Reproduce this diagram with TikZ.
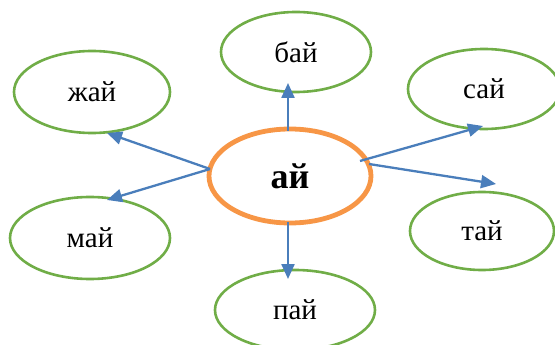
\documentclass[tikz,border=0pt]{standalone}
\usepackage{fontspec}
\setmainfont{Liberation Serif}
\usetikzlibrary{shapes.geometric,arrows.meta}
\definecolor{lgreen}{HTML}{70AD47}
\definecolor{lorange}{HTML}{F79646}
\definecolor{lblue}{HTML}{4A7EBB}
\tikzset{
  leaf/.style={ellipse,draw=lgreen,line width=2.6pt,inner sep=0pt,font=\fontsize{29}{32}\selectfont},
  hub/.style={ellipse,draw=lorange,line width=4.8pt,inner sep=0pt,font=\fontsize{36}{40}\selectfont\bfseries},
  arr/.style={draw=lblue,line width=2.3pt,-{Triangle[length=15pt,width=13pt]}}
}
\begin{document}
\begin{tikzpicture}[x=1pt,y=-1pt]
\useasboundingbox (0,0) rectangle (555,345);
\node[hub,minimum width=162pt,minimum height=94pt] (c) at (290,176) {ай};
\node[leaf,minimum width=150pt,minimum height=80pt] (b) at (296,52) {бай};
\node[leaf,minimum width=156pt,minimum height=82pt] (zh) at (92,92) {жай};
\node[leaf,minimum width=152pt,minimum height=80pt] (s) at (484,89) {сай};
\node[leaf,minimum width=160pt,minimum height=82pt] (m) at (90,238) {май};
\node[leaf,minimum width=144pt,minimum height=78pt] (t) at (482,231) {тай};
\node[leaf,minimum width=160pt,minimum height=80pt] (p) at (295,310) {пай};
\coordinate (cu) at (288,131);
\coordinate (cd) at (288,222);
\coordinate (cl) at (210,169);
\coordinate (cr1) at (360,161);
\coordinate (cr2) at (369,164);
\coordinate (bu) at (288,83);
\coordinate (pd) at (288,279);
\coordinate (zhd) at (107,133);
\coordinate (md) at (107,200);
\coordinate (sd) at (483,126);
\coordinate (td) at (496,184);
\draw[arr] (cu) -- (bu);
\draw[arr] (cd) -- (pd);
\draw[arr] (cl) -- (zhd);
\draw[arr] (cl) -- (md);
\draw[arr] (cr1) -- (sd);
\draw[arr] (cr2) -- (td);
\end{tikzpicture}
\end{document}
